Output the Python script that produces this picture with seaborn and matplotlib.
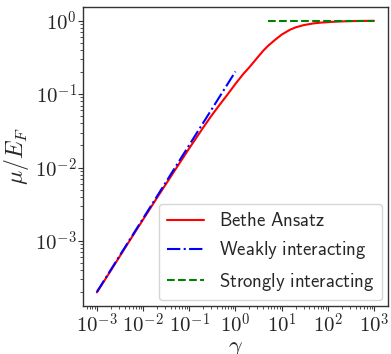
import math
import matplotlib
matplotlib.use("Agg")
import matplotlib.pyplot as plt
import matplotlib.ticker as mticker
import seaborn as sns
import pandas as pd

# Bethe Ansatz curve
gamma_ba = [0.001, 0.002, 0.005, 0.01, 0.02, 0.05, 0.1, 0.2, 0.3, 0.45, 0.7, 1.0,
            1.5, 2.0, 3.0, 4.0, 5.0, 7.0, 10.0, 15.0, 20.0, 30.0, 50.0, 70.0,
            100.0, 150.0, 200.0, 300.0, 500.0, 1000.0]
mu_ba = [2.0e-4, 3.96e-4, 9.9e-4, 1.96e-3, 3.87e-3, 9.4e-3, 0.0183, 0.0350,
         0.0505, 0.071, 0.102, 0.138, 0.19, 0.232, 0.315, 0.39, 0.45, 0.54,
         0.645, 0.75, 0.81, 0.87, 0.92, 0.94, 0.955, 0.97, 0.977, 0.985,
         0.991, 0.995]

# Weakly interacting limit
gamma_weak = [0.001, 0.01, 0.1, 1.0]
mu_weak = [2.03e-4, 2.03e-3, 2.03e-2, 0.203]

# Strongly interacting limit
gamma_strong = [5.0, 1000.0]
mu_strong = [1.0, 1.0]

labels = ["Bethe Ansatz", "Weakly interacting", "Strongly interacting"]

sns.set_style("white")
plt.rcParams["mathtext.fontset"] = "cm"
plt.rcParams["font.family"] = ["DejaVu Sans"]

fig = plt.figure(figsize=(3.91, 3.54), dpi=100)
ax = fig.add_axes([0.2123, 0.1356, 0.7797, 0.8444])

df_ba = pd.DataFrame({"g": gamma_ba, "m": mu_ba})
df_w = pd.DataFrame({"g": gamma_weak, "m": mu_weak})
df_s = pd.DataFrame({"g": gamma_strong, "m": mu_strong})


def sf(s):
    return r"$\mathsf{" + s.replace(" ", r"\ ") + "}$"


sns.lineplot(data=df_ba, x="g", y="m", ax=ax, color="red", lw=1.5, label=sf(labels[0]))
sns.lineplot(data=df_w, x="g", y="m", ax=ax, color="blue", lw=1.5, ls="-.", label=sf(labels[1]))
sns.lineplot(data=df_s, x="g", y="m", ax=ax, color="green", lw=1.5, ls="--", label=sf(labels[2]))

ax.set_xscale("log")
ax.set_yscale("log")
ax.margins(x=0.05, y=0.05)

for axis in (ax.xaxis, ax.yaxis):
    axis.set_major_locator(mticker.LogLocator(base=10, numticks=20))
    axis.set_minor_locator(mticker.LogLocator(base=10, subs=range(2, 10), numticks=20))
    axis.set_major_formatter(mticker.FuncFormatter(lambda v, p: r"$10^{%d}$" % round(math.log10(v))))
    axis.set_minor_formatter(mticker.NullFormatter())

ax.set_xlabel(r"$\gamma$", fontsize=17, labelpad=0)
ax.set_ylabel(r"$\mu/E_F$", fontsize=17, labelpad=3)

for sp in ax.spines.values():
    sp.set_color("#333333")
    sp.set_linewidth(1.0)

ax.tick_params(axis="both", which="major", labelsize=15, direction="out",
               length=3.5, width=0.8, color="#333333", left=True, bottom=True, pad=1)
ax.tick_params(axis="both", which="minor", direction="out", length=2,
               width=0.6, color="#333333", left=True, bottom=True)

ax.legend(loc="lower right", fontsize=13.5, frameon=True, framealpha=0.8,
          edgecolor="#cccccc", fancybox=True, borderaxespad=0.3)

fig.savefig("out.png", dpi=100)
